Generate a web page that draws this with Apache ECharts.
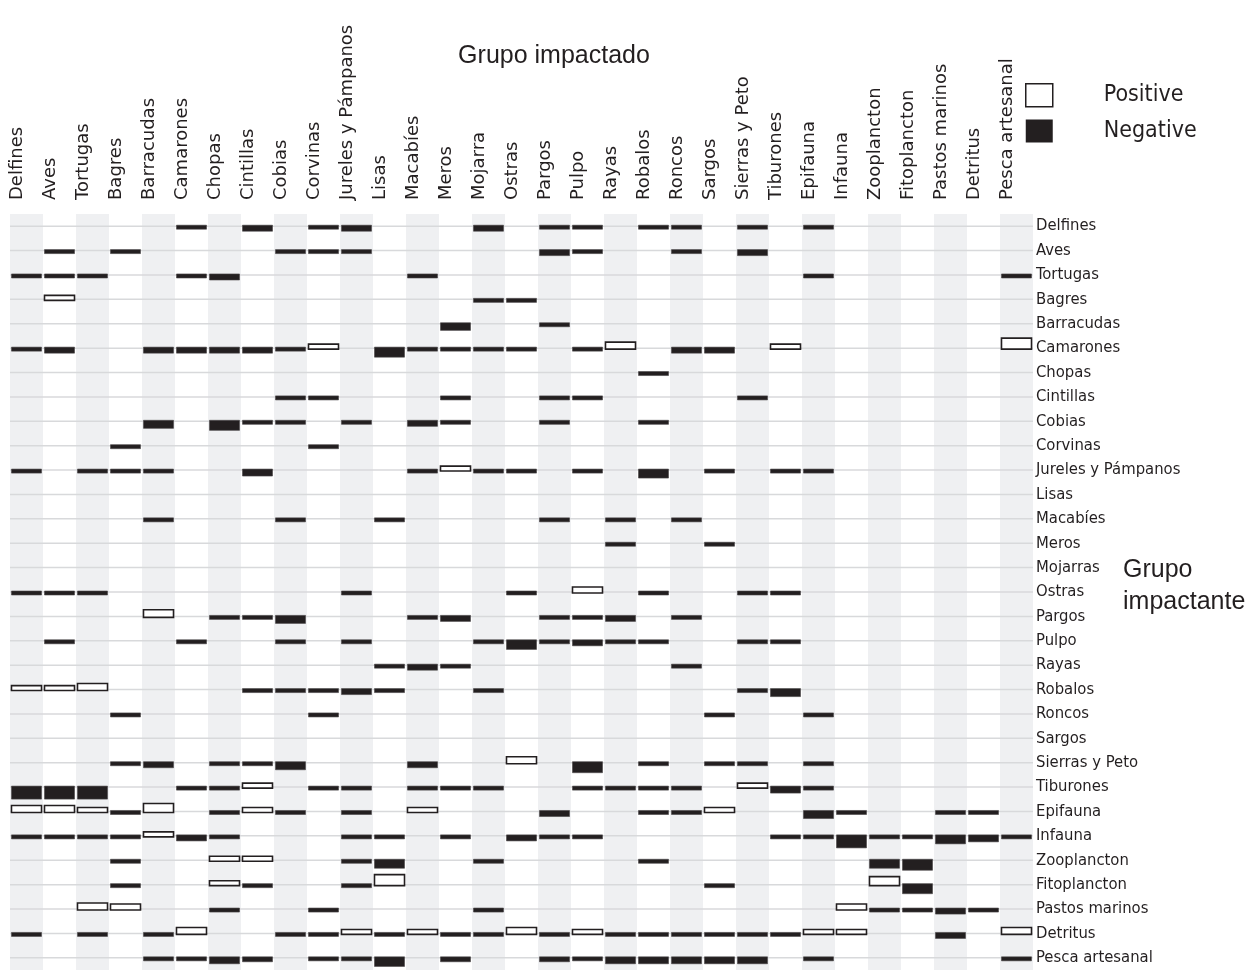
<!DOCTYPE html>
<html>
<head>
<meta charset="utf-8">
<script src="https://cdn.jsdelivr.net/npm/echarts@6/dist/echarts.min.js"></script>
<style>
  html, body { margin: 0; padding: 0; background: #fff; }
  #chart { width: 1258px; height: 973px; }
</style>
</head>
<body>
<div id="chart"></div>
<script>
// grupo impactado (columnas)
const impactedGroups = ["Delfines", "Aves", "Tortugas", "Bagres", "Barracudas", "Camarones", "Chopas", "Cintillas", "Cobias", "Corvinas",
  "Jureles y Pámpanos", "Lisas", "Macabíes", "Meros", "Mojarra", "Ostras", "Pargos", "Pulpo", "Rayas", "Robalos", "Roncos", "Sargos",
  "Sierras y Peto", "Tiburones", "Epifauna", "Infauna", "Zooplancton", "Fitoplancton", "Pastos marinos", "Detritus", "Pesca artesanal"];

// grupo impactante (filas)
const impactingGroups = ["Delfines", "Aves", "Tortugas", "Bagres", "Barracudas", "Camarones", "Chopas", "Cintillas", "Cobias", "Corvinas",
  "Jureles y Pámpanos", "Lisas", "Macabíes", "Meros", "Mojarras", "Ostras", "Pargos", "Pulpo", "Rayas", "Robalos", "Roncos", "Sargos",
  "Sierras y Peto", "Tiburones", "Epifauna", "Infauna", "Zooplancton", "Fitoplancton", "Pastos marinos", "Detritus", "Pesca artesanal"];

// impacto trófico mixto, una fila por grupo impactante (orden de columnas = impactedGroups)
const mtiDelfines     = [0, 0, 0, 0, 0, -.3, 0, -.45, 0, -.3, -.45, 0, 0, 0, -.45, 0, -.3, -.3, 0, -.3, -.3, 0, -.3, 0, -.3, 0, 0, 0, 0, 0, 0];
const mtiAves         = [0, -.3, 0, -.3, 0, 0, 0, 0, -.3, -.3, -.3, 0, 0, 0, 0, 0, -.45, -.3, 0, 0, -.3, 0, -.45, 0, 0, 0, 0, 0, 0, 0, 0];
const mtiTortugas     = [-.3, -.3, -.3, 0, 0, -.3, -.45, 0, 0, 0, 0, 0, -.3, 0, 0, 0, 0, 0, 0, 0, 0, 0, 0, 0, -.3, 0, 0, 0, 0, 0, -.3];
const mtiBagres       = [0, .37, 0, 0, 0, 0, 0, 0, 0, 0, 0, 0, 0, 0, -.3, -.3, 0, 0, 0, 0, 0, 0, 0, 0, 0, 0, 0, 0, 0, 0, 0];
const mtiBarracudas   = [0, 0, 0, 0, 0, 0, 0, 0, 0, 0, 0, 0, 0, -.57, 0, 0, -.3, 0, 0, 0, 0, 0, 0, 0, 0, 0, 0, 0, 0, 0, 0];
const mtiCamarones    = [-.3, -.45, 0, 0, -.45, -.45, -.45, -.45, -.3, .37, 0, -.75, -.3, -.3, -.3, -.3, 0, -.3, .52, 0, -.45, -.45, 0, .37, 0, 0, 0, 0, 0, 0, .82];
const mtiChopas       = [0, 0, 0, 0, 0, 0, 0, 0, 0, 0, 0, 0, 0, 0, 0, 0, 0, 0, 0, -.3, 0, 0, 0, 0, 0, 0, 0, 0, 0, 0, 0];
const mtiCintillas    = [0, 0, 0, 0, 0, 0, 0, 0, -.3, -.3, 0, 0, 0, -.3, 0, 0, -.3, -.3, 0, 0, 0, 0, -.3, 0, 0, 0, 0, 0, 0, 0, 0];
const mtiCobias       = [0, 0, 0, 0, -.6, 0, -.75, -.3, -.3, 0, -.3, 0, -.45, -.3, 0, 0, -.3, 0, 0, -.3, 0, 0, 0, 0, 0, 0, 0, 0, 0, 0, 0];
const mtiCorvinas     = [0, 0, 0, -.3, 0, 0, 0, 0, 0, -.3, 0, 0, 0, 0, 0, 0, 0, 0, 0, 0, 0, 0, 0, 0, 0, 0, 0, 0, 0, 0, 0];
const mtiJureles      = [-.3, 0, -.3, -.3, -.3, 0, 0, -.52, 0, 0, 0, 0, -.3, .37, -.3, -.3, 0, -.3, 0, -.67, 0, -.3, 0, -.3, -.3, 0, 0, 0, 0, 0, 0];
const mtiLisas        = [0, 0, 0, 0, 0, 0, 0, 0, 0, 0, 0, 0, 0, 0, 0, 0, 0, 0, 0, 0, 0, 0, 0, 0, 0, 0, 0, 0, 0, 0, 0];
const mtiMacabies     = [0, 0, 0, 0, -.3, 0, 0, 0, -.3, 0, 0, -.3, 0, 0, 0, 0, -.3, 0, -.3, 0, -.3, 0, 0, 0, 0, 0, 0, 0, 0, 0, 0];
const mtiMeros        = [0, 0, 0, 0, 0, 0, 0, 0, 0, 0, 0, 0, 0, 0, 0, 0, 0, 0, -.3, 0, 0, -.3, 0, 0, 0, 0, 0, 0, 0, 0, 0];
const mtiMojarras     = [0, 0, 0, 0, 0, 0, 0, 0, 0, 0, 0, 0, 0, 0, 0, 0, 0, 0, 0, 0, 0, 0, 0, 0, 0, 0, 0, 0, 0, 0, 0];
const mtiOstras       = [-.3, -.3, -.3, 0, 0, 0, 0, 0, 0, 0, -.3, 0, 0, 0, 0, -.3, 0, .45, 0, -.3, 0, 0, -.3, -.3, 0, 0, 0, 0, 0, 0, 0];
const mtiPargos       = [0, 0, 0, 0, .57, 0, -.3, -.3, -.6, 0, 0, 0, -.3, -.45, 0, 0, -.3, -.3, -.45, 0, -.3, 0, 0, 0, 0, 0, 0, 0, 0, 0, 0];
const mtiPulpo        = [0, -.3, 0, 0, 0, -.3, 0, 0, -.3, 0, -.3, 0, 0, 0, -.3, -.72, -.3, -.45, -.3, -.3, 0, 0, -.3, -.3, 0, 0, 0, 0, 0, 0, 0];
const mtiRayas        = [0, 0, 0, 0, 0, 0, 0, 0, 0, 0, 0, -.3, -.45, -.3, 0, 0, 0, 0, 0, 0, -.3, 0, 0, 0, 0, 0, 0, 0, 0, 0, 0];
const mtiRobalos      = [.37, .37, .52, 0, 0, 0, 0, -.3, -.3, -.3, -.45, -.3, 0, 0, -.3, 0, 0, 0, 0, 0, 0, 0, -.3, -.6, 0, 0, 0, 0, 0, 0, 0];
const mtiRoncos       = [0, 0, 0, -.3, 0, 0, 0, 0, 0, -.3, 0, 0, 0, 0, 0, 0, 0, 0, 0, 0, 0, -.3, 0, 0, -.3, 0, 0, 0, 0, 0, 0];
const mtiSargos       = [0, 0, 0, 0, 0, 0, 0, 0, 0, 0, 0, 0, 0, 0, 0, 0, 0, 0, 0, 0, 0, 0, 0, 0, 0, 0, 0, 0, 0, 0, 0];
const mtiSierras      = [0, 0, 0, -.3, -.45, 0, -.3, -.3, -.6, 0, 0, 0, -.45, 0, 0, .52, 0, -.82, 0, -.3, 0, -.3, -.3, 0, -.3, 0, 0, 0, 0, 0, 0];
const mtiTiburones    = [-.97, -.97, -.97, 0, 0, -.3, -.3, .37, 0, -.3, -.3, 0, -.3, -.3, -.3, 0, 0, -.3, -.3, -.3, -.3, 0, .37, -.52, -.3, 0, 0, 0, 0, 0, 0];
const mtiEpifauna     = [.52, .52, .37, -.3, .67, 0, -.3, .37, -.3, 0, -.3, 0, .37, 0, 0, 0, -.45, 0, 0, -.3, -.3, .37, 0, 0, -.6, -.3, 0, 0, -.3, -.3, 0];
const mtiInfauna      = [-.3, -.3, -.3, -.3, .37, -.45, -.3, 0, 0, 0, -.3, -.3, 0, -.3, 0, -.45, -.3, -.3, 0, 0, 0, 0, 0, -.3, -.3, -.97, -.3, -.3, -.67, -.52, -.3];
const mtiZooplancton  = [0, 0, 0, -.3, 0, 0, .37, .37, 0, 0, -.3, -.67, 0, 0, -.3, 0, 0, 0, 0, -.3, 0, 0, 0, 0, 0, 0, -.67, -.82, 0, 0, 0];
const mtiFitoplancton = [0, 0, 0, -.3, 0, 0, .37, -.3, 0, 0, -.3, .82, 0, 0, 0, 0, 0, 0, 0, 0, 0, -.3, 0, 0, 0, 0, .67, -.75, 0, 0, 0];
const mtiPastos       = [0, 0, .52, .45, 0, 0, -.3, 0, 0, -.3, 0, 0, 0, 0, -.3, 0, 0, 0, 0, 0, 0, 0, 0, 0, 0, .45, -.3, -.3, -.45, -.3, 0];
const mtiDetritus     = [-.3, 0, -.3, 0, -.3, .52, 0, 0, -.3, -.3, .37, -.3, .37, -.3, -.3, .52, -.3, .37, -.3, -.3, -.3, -.3, -.3, -.3, .37, .37, 0, 0, -.45, 0, .52];
const mtiPesca        = [0, 0, 0, 0, -.3, -.3, -.52, -.37, 0, -.3, -.3, -.72, 0, -.37, 0, 0, -.37, -.3, -.52, -.52, -.52, -.52, -.52, 0, -.3, 0, 0, 0, 0, 0, -.3];

const mtiRows = [mtiDelfines, mtiAves, mtiTortugas, mtiBagres, mtiBarracudas, mtiCamarones, mtiChopas, mtiCintillas, mtiCobias,
  mtiCorvinas, mtiJureles, mtiLisas, mtiMacabies, mtiMeros, mtiMojarras, mtiOstras, mtiPargos, mtiPulpo, mtiRayas, mtiRobalos,
  mtiRoncos, mtiSargos, mtiSierras, mtiTiburones, mtiEpifauna, mtiInfauna, mtiZooplancton, mtiFitoplancton, mtiPastos,
  mtiDetritus, mtiPesca];

const positiveData = [];
const negativeData = [];
mtiRows.forEach((row, r) => {
  row.forEach((v, c) => {
    if (v > 0) positiveData.push([c, r, v]);
    else if (v < 0) negativeData.push([c, r, v]);
  });
});

const ink = "#231f20";
const narrow = "'Liberation Sans Narrow', 'DejaVu Sans Condensed', 'Liberation Sans', sans-serif";

// barra: positivo hacia arriba, negativo hacia abajo desde la línea base
function renderBar(params, api) {
  const pt = api.coord([api.value(0), api.value(1)]);
  const band = api.size([1, 1]);
  const v = api.value(2);
  const w = band[0] * 0.91;
  const h = Math.abs(v) * band[1] * 0.55;
  const y = v < 0 ? pt[1] - 1 : pt[1] + 1 - h;
  return {
    type: "rect",
    shape: { x: pt[0] - w / 2, y: y, width: w, height: h },
    style: v < 0
      ? { fill: ink, stroke: "#4a4748", lineWidth: 0.6 }
      : { fill: "#fff", stroke: ink, lineWidth: 1.6 },
  };
}

const chart = echarts.init(document.getElementById("chart"));

chart.setOption({
  animation: false,
  title: [
    {
      text: "Grupo impactado",
      left: 549,
      top: 39,
      textAlign: "center",
      textStyle: { fontFamily: "'Liberation Sans', Arial, sans-serif", fontSize: 25, fontWeight: "normal", color: ink },
    },
    {
      text: "Grupo\nimpactante",
      left: 1118,
      top: 549,
      textStyle: { fontFamily: "'Liberation Sans', Arial, sans-serif", fontSize: 25, fontWeight: "normal", color: ink, lineHeight: 32 },
    },
  ],
  legend: {
    orient: "vertical",
    left: 1020,
    top: 78,
    itemWidth: 27,
    itemHeight: 23,
    itemGap: 12,
    selectedMode: false,
    textStyle: { fontFamily: narrow, fontSize: 23, lineHeight: 23, color: ink, padding: [0, 0, 0, 46] },
    data: [
      { name: "Positive", icon: "rect", itemStyle: { color: "#fff", borderColor: ink, borderWidth: 1.5 } },
      { name: "Negative", icon: "rect", itemStyle: { color: ink, borderWidth: 0 } },
    ],
  },
  grid: { left: 10, right: 225, top: 214, bottom: 3 },
  xAxis: {
    type: "category",
    data: impactedGroups,
    position: "top",
    boundaryGap: true,
    axisLine: { show: false },
    axisTick: { show: false },
    splitLine: { show: false },
    splitArea: { show: true, areaStyle: { color: ["#eff0f2", "#ffffff"] } },
    axisLabel: {
      interval: 0,
      rotate: -90,
      margin: 14,
      verticalAlign: "bottom",
      fontFamily: "'DejaVu Sans', sans-serif",
      fontSize: 18,
      color: ink,
    },
  },
  yAxis: {
    type: "category",
    data: impactingGroups,
    inverse: true,
    position: "right",
    boundaryGap: true,
    axisLine: { show: false },
    axisTick: { show: false },
    splitLine: { show: false },
    axisLabel: { interval: 0, margin: 3, fontFamily: narrow, fontSize: 16.5, color: ink },
  },
  series: [
    {
      // líneas base de cada grupo impactante
      type: "custom",
      name: "base",
      silent: true,
      data: impactingGroups.map((g, i) => [0, i]),
      renderItem: (params, api) => {
        const cs = params.coordSys;
        const y = api.coord([0, api.value(1)])[1];
        return {
          type: "line",
          shape: { x1: cs.x, y1: y, x2: cs.x + cs.width, y2: y },
          style: { stroke: "#d8d9db", lineWidth: 1.5 },
        };
      },
    },
    {
      type: "custom",
      name: "Positive",
      itemStyle: { color: "#fff", borderColor: ink },
      data: positiveData,
      renderItem: renderBar,
    },
    {
      type: "custom",
      name: "Negative",
      itemStyle: { color: ink },
      data: negativeData,
      renderItem: renderBar,
    },
  ],
});
</script>
</body>
</html>
